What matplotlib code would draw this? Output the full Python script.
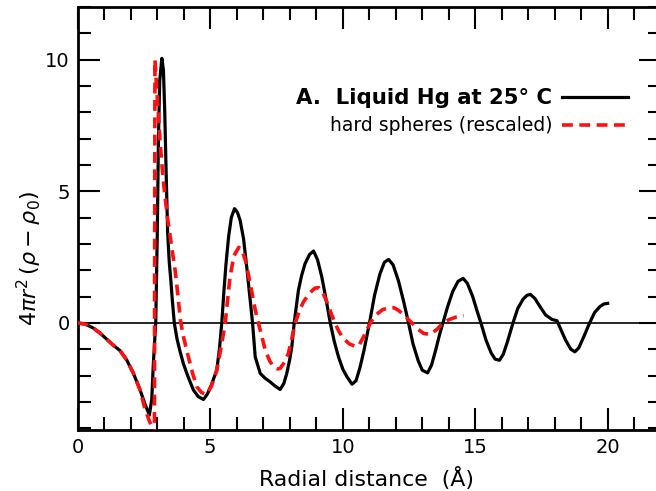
import matplotlib
matplotlib.use("Agg")
import matplotlib.pyplot as plt
from matplotlib.ticker import MultipleLocator

# ---- data ----
hg_r = [0.0, 0.3, 0.6, 0.85, 1.1, 1.35, 1.6, 1.85, 2.1, 2.36, 2.55, 2.71, 2.8, 2.86,
        2.95, 3.01, 3.05, 3.1, 3.18, 3.24, 3.29, 3.34, 3.4, 3.46, 3.52, 3.58, 3.65,
        3.75, 3.87, 3.99, 4.15, 4.37, 4.55, 4.75, 4.9, 5.05, 5.25, 5.35, 5.44, 5.52,
        5.6, 5.7, 5.8, 5.92, 6.03, 6.13, 6.26, 6.38, 6.51, 6.6, 6.7, 6.89, 7.07, 7.26,
        7.45, 7.64, 7.78, 7.89, 8.0, 8.08, 8.17, 8.33, 8.45, 8.58, 8.75, 8.9, 9.05,
        9.21, 9.37, 9.53, 9.68, 9.84, 10.0, 10.16, 10.35, 10.5, 10.65, 10.8, 11.01,
        11.2, 11.4, 11.57, 11.73, 11.9, 12.1, 12.3, 12.48, 12.65, 12.85, 13.0, 13.2,
        13.35, 13.5, 13.65, 13.78, 13.95, 14.15, 14.35, 14.54, 14.7, 14.9, 15.05,
        15.21, 15.4, 15.6, 15.75, 15.91, 16.05, 16.2, 16.42, 16.6, 16.8, 16.95, 17.08,
        17.25, 17.45, 17.65, 17.89, 18.08, 18.2, 18.4, 18.6, 18.75, 18.9, 19.1, 19.31,
        19.5, 19.7, 19.85, 19.99]
hg_val = [0.0, -0.05, -0.2, -0.39, -0.62, -0.85, -1.05, -1.4, -1.9, -2.55, -3.1, -3.5,
          -2.9, -1.54, 0.0, 3.5, 6.9, 9.2, 10.05, 9.6, 8.0, 5.8, 3.4, 2.3, 1.6, 0.8, 0.0,
          -0.6, -1.1, -1.54, -2.0, -2.55, -2.8, -2.91, -2.7, -2.35, -1.8, -1.0, 0.0, 1.2,
          2.25, 3.3, 4.0, 4.34, 4.2, 3.9, 3.2, 2.13, 0.86, 0.0, -1.29, -1.92, -2.1, -2.24,
          -2.4, -2.53, -2.3, -1.92, -1.4, -0.91, 0.0, 1.24, 1.8, 2.25, 2.6, 2.73, 2.4,
          1.75, 0.9, 0.0, -0.7, -1.29, -1.75, -2.05, -2.33, -2.2, -1.7, -1.05, 0.0,
          1.05, 1.85, 2.3, 2.41, 2.2, 1.6, 0.8, 0.0, -0.8, -1.45, -1.8, -1.9,
          -1.6, -1.05, -0.45, 0.0, 0.6, 1.2, 1.58, 1.69, 1.5, 1.0, 0.5,
          0.0, -0.65, -1.15, -1.38, -1.42, -1.2, -0.75, 0.0, 0.55, 0.9, 1.05, 1.08,
          0.92, 0.6, 0.3, 0.13, 0.08, -0.2, -0.65, -1.0, -1.1, -0.95, -0.5, 0.0,
          0.4, 0.62, 0.72, 0.74]

hs_r = [0.0, 0.3, 0.6, 0.85, 1.1, 1.35, 1.6, 1.85, 2.1, 2.36, 2.55, 2.7, 2.8, 2.9,
        2.92, 2.98, 3.05, 3.11, 3.2, 3.3, 3.42, 3.55, 3.68, 3.78, 3.88, 4.0, 4.18,
        4.35, 4.5, 4.68, 4.87, 5.05, 5.25, 5.42, 5.57, 5.75, 5.9, 6.08, 6.2, 6.35,
        6.51, 6.7, 6.82, 7.08, 7.25, 7.39, 7.55, 7.64, 7.8, 7.95, 8.08, 8.21, 8.36,
        8.52, 8.77, 8.95, 9.09, 9.25, 9.4, 9.55, 9.7, 9.87, 10.03, 10.25, 10.45, 10.6,
        10.8, 11.04, 11.25, 11.5, 11.75, 11.92, 12.1, 12.35, 12.61, 12.85, 13.05,
        13.3, 13.55, 13.78, 14.0, 14.3, 14.56]
hs_val = [0.0, -0.05, -0.2, -0.39, -0.62, -0.85, -1.05, -1.4, -1.9, -2.55, -3.3, -3.7,
          -3.95, -4.6, 10.0, 9.0, 7.9, 6.93, 5.8, 4.78, 3.8, 2.89, 2.0, 1.1, 0.1, -0.55,
          -1.29, -1.95, -2.43, -2.65, -2.72, -2.4, -1.8, -0.9, 0.0, 1.75, 2.55, 2.87,
          2.78, 2.3, 1.5, 0.5, 0.0, -1.04, -1.45, -1.67, -1.75, -1.73, -1.5, -1.16,
          -0.6, 0.0, 0.45, 0.8, 1.15, 1.32, 1.34, 1.15, 0.8, 0.4, 0.0, -0.35, -0.6,
          -0.8, -0.88, -0.88, -0.5, 0.0, 0.3, 0.5, 0.58, 0.58, 0.48, 0.25, 0.0, -0.25,
          -0.4, -0.44, -0.25, 0.0, 0.12, 0.23, 0.28]

x_ticks = [0, 5, 10, 15, 20]
y_ticks = [0, 5, 10]
label_hg = "A.  Liquid Hg at 25° C"
label_hs = "hard spheres (rescaled)"

# ---- figure ----
fig = plt.figure(figsize=(6.56, 4.91), dpi=100)
ax = fig.add_axes([77.5 / 656, 1 - 430 / 491, 583.5 / 656, 423 / 491])

ax.axhline(0, color="black", lw=1.2, zorder=1)
l1, = ax.plot(hg_r, hg_val, color="black", lw=2.3, solid_joinstyle="round", zorder=3,
              label=label_hg)
l2, = ax.plot(hs_r, hs_val, color="#ff1010", lw=2.6, dashes=(3.0, 1.8), zorder=4,
              label=label_hs)

ax.set_xlim(0, 22)
ax.set_ylim(-4.07, 12)
ax.set_xticks(x_ticks)
ax.set_yticks(y_ticks)
ax.xaxis.set_minor_locator(MultipleLocator(1))
ax.yaxis.set_minor_locator(MultipleLocator(1))
ax.tick_params(which="both", direction="in", top=True, right=True, width=1.5,
               labelsize=14)
ax.tick_params(axis="x", which="major", length=15.5, pad=5.5)
ax.tick_params(axis="y", which="major", length=15.5, pad=5.5)
ax.tick_params(which="minor", length=9.5)
for s in ax.spines.values():
    s.set_linewidth(2.0)

ax.set_xlabel("Radial distance  (Å)", fontsize=15.8)
ax.xaxis.set_label_coords(0.496, -0.088)
ax.set_ylabel(r"$4\pi r^2\,(\rho - \rho_0)$", fontsize=16)
ax.yaxis.set_label_coords(-0.058, 0.405)

leg = ax.legend(handles=[l1, l2], loc="upper right", markerfirst=False, frameon=False,
                fontsize=13.5, handlelength=3.5, handletextpad=0.55, labelspacing=0.45,
                borderpad=0, borderaxespad=0,
                bbox_to_anchor=(628 / 656, 1 - 88 / 491), bbox_transform=fig.transFigure)
t0 = leg.get_texts()[0]
t0.set_fontsize(15.3)
t0.set_fontweight("bold")

fig.savefig("out.png", dpi=100)
